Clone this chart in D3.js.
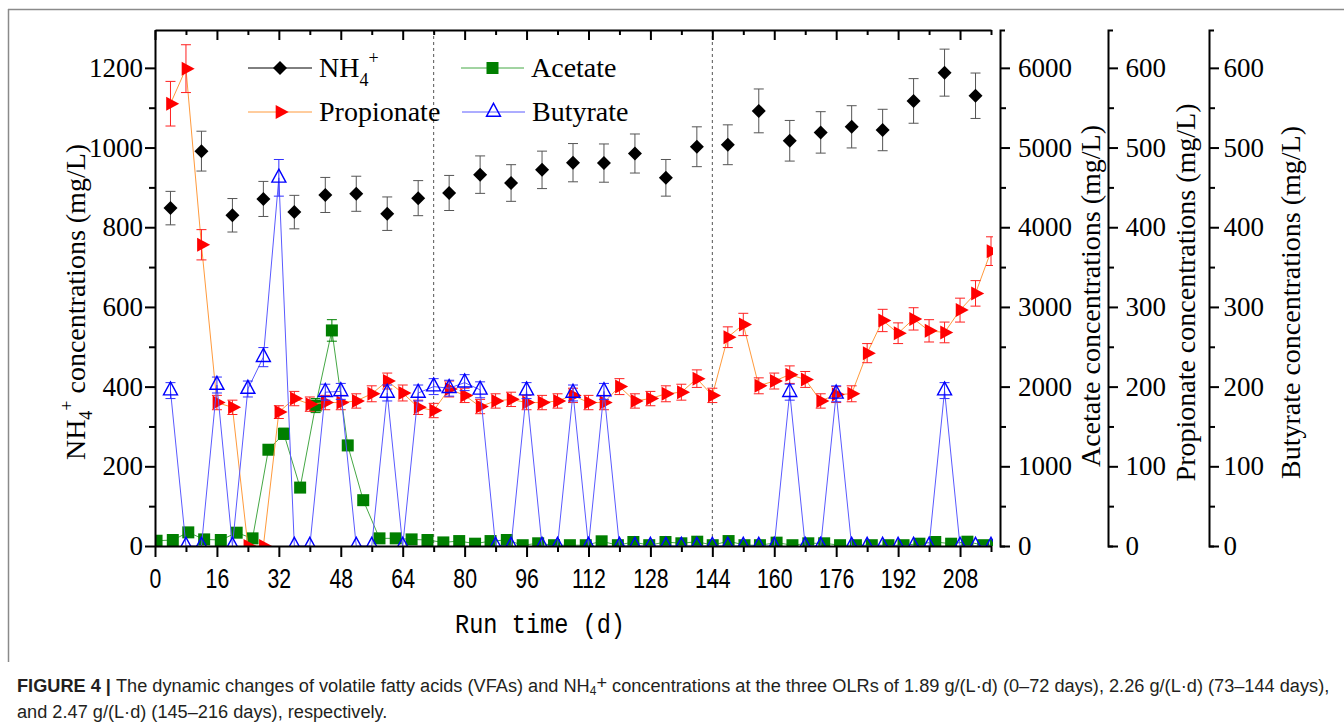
<!DOCTYPE html>
<html><head><meta charset="utf-8">
<script src="https://cdn.jsdelivr.net/npm/d3@7/dist/d3.min.js"></script>
<style>
html,body{margin:0;padding:0;background:#fff;}
svg{display:block;}
</style></head>
<body>
<svg id="chart" width="1344" height="725"></svg>
<script>
// ---------------- data ----------------
const xMajorTicks = [0,16,32,48,64,80,96,112,128,144,160,176,192,208];
const xMinorTicks = [8,24,40,56,72,88,104,120,136,152,168,184,200,216];
const nh4Ticks = [0,200,400,600,800,1000,1200];
const nh4Minor = [100,300,500,700,900,1100];
const aceTicks = [0,1000,2000,3000,4000,5000,6000];
const aceMinor = [500,1500,2500,3500,4500,5500];
const vfaTicks = [0,100,200,300,400,500,600];
const vfaMinor = [50,150,250,350,450,550];
const olrBoundaries = [72,144];

const nh4Days = [4,12,20,28,36,44,52,60,68,76,84,92,100,108,116,124,132,140,148,156,164,172,180,188,196,204,212];
const nh4Vals = [848,991,830,871,838,881,884,834,873,886,932,911,944,962,961,985,924,1002,1007,1092,1017,1038,1052,1044,1117,1188,1130];
const nh4Err  = [42,50,42,44,42,44,44,42,44,44,47,46,47,48,48,49,46,50,50,55,51,52,53,52,56,59,57];

const vfaDays = [4,8,12,16,20,24,28,32,36,40,44,48,52,56,60,64,68,72,76,80,84,88,92,96,100,104,108,112,116,120,124,128,132,136,140,144,148,152,156,160,164,168,172,176,180,184,188,192,196,200,204,208,212,216];
const propVals = [555,599,378,180,174,0,0,168,185,178,180,180,182,191,207,192,174,170,197,189,175,182,184,180,180,182,189,180,180,200,182,185,191,193,210,189,262,278,201,207,215,209,182,190,191,242,283,267,285,270,268,296,317,370];
const propErr  = [28,30,19,9,9,0,0,8,9,9,9,9,9,10,10,10,9,9,10,9,9,9,9,9,9,9,9,9,9,10,9,9,10,10,11,9,13,14,10,10,11,10,9,10,10,12,14,13,14,14,13,15,16,18];
const butVals  = [195,0,0,202,0,197,237,462,0,0,193,194,0,0,192,0,192,200,198,205,196,0,0,195,0,0,192,0,194,0,0,0,0,0,0,0,0,0,0,0,193,0,0,191,0,0,0,0,0,0,195,0,0,0];
const butErr   = [10,0,0,10,0,10,12,23,0,0,10,10,0,0,10,0,10,10,10,10,10,0,0,10,0,0,10,0,10,0,0,0,0,0,0,0,0,0,0,0,10,0,0,10,0,0,0,0,0,0,10,0,0,0];

const aceDays = [0.4,4.6,8.6,12.7,17.0,21.1,25.2,29.3,33.3,37.5,41.5,45.7,49.8,53.8,58.0,62.2,66.3,70.4,74.5,78.6,82.7,86.7,90.9,95.0,99.0,103.1,107.2,111.3,115.4,119.6,123.6,127.7,131.9,136.0,140.1,144.1,148.2,152.3,156.3,160.6,164.7,168.8,172.9,177.0,181.1,185.2,189.5,193.4,197.5,201.6,205.7,209.9,214.0,217.3];
const aceVals = [66,75,171,83,75,167,96,1208,1408,733,1762,2705,1262,575,96,96,83,75,45,62,29,62,75,10,34,10,10,10,59,10,50,10,50,34,54,10,62,10,10,42,10,34,34,10,10,10,10,10,29,50,29,54,10,10];
const aceErr  = [3,4,9,4,4,8,5,60,70,37,88,135,63,29,5,5,4,4,2,3,1,3,4,1,2,1,1,1,3,1,3,1,3,2,3,1,3,1,1,2,1,2,2,1,1,1,1,1,1,3,1,3,1,1];

// ---------------- layout ----------------
const svg = d3.select("#chart");
const L = 155, R = 991, T = 30, B = 546;
const x  = d3.scaleLinear().domain([0,216]).range([L,R]);
const yN = d3.scaleLinear().domain([0,1295]).range([B,T]);
const yA = d3.scaleLinear().domain([0,6475]).range([B,T]);
const yP = d3.scaleLinear().domain([0,647.5]).range([B,T]);
const yB = d3.scaleLinear().domain([0,647.5]).range([B,T]);
const fmt = d3.format("d");

const serif = "'Liberation Serif','Times New Roman',serif";
const narrow = "'Liberation Sans',Arial,sans-serif";

// frame
svg.append("line").attr("x1",8).attr("x2",1344).attr("y1",9.5).attr("y2",9.5).attr("stroke","#8a8a8a").attr("stroke-width",1.5);
svg.append("line").attr("x1",8.5).attr("x2",8.5).attr("y1",9).attr("y2",662).attr("stroke","#8a8a8a").attr("stroke-width",1.5);

// clip
svg.append("defs").append("clipPath").attr("id","plotclip")
  .append("rect").attr("x",L).attr("y",T).attr("width",R-L+2).attr("height",B-T);

// dashed OLR lines
svg.append("g").selectAll("line").data(olrBoundaries).join("line")
  .attr("x1",d=>x(d)).attr("x2",d=>x(d)).attr("y1",T).attr("y2",B)
  .attr("stroke","#555").attr("stroke-width",1).attr("stroke-dasharray","3,3");

const plot = svg.append("g").attr("clip-path","url(#plotclip)");

const shapes = {
  diamond: "M0,-7L7,0L0,7L-7,0Z",
  square: "M-6,-6H6V6H-6Z",
  triRight: "M-4.3,-7L8.7,0L-4.3,7Z",
  triUp: "M0,-8.7L7,4.3L-7,4.3Z"
};

function drawSeries(days, vals, errs, ys, o) {
  const pts = days.map((d,i)=>({x:x(d), y:ys(vals[i]), lo:ys(vals[i]-errs[i]), hi:ys(vals[i]+errs[i]), e:errs[i]}));
  const g = plot.append("g");
  if (o.line) {
    g.append("path").datum(pts)
      .attr("d", d3.line().x(p=>p.x).y(p=>p.y))
      .attr("fill","none").attr("stroke",o.line).attr("stroke-width",1);
  }
  const eb = g.append("g").attr("stroke",o.err).attr("stroke-width",1).attr("fill","none");
  pts.filter(p=>p.e>0).forEach(p=>{
    eb.append("path").attr("d",`M${p.x},${p.lo}V${p.hi}M${p.x-5},${p.lo}H${p.x+5}M${p.x-5},${p.hi}H${p.x+5}`);
  });
  g.append("g").selectAll("path").data(pts).join("path")
    .attr("transform",p=>`translate(${p.x},${p.y})`)
    .attr("d",shapes[o.shape])
    .attr("fill",o.fill).attr("stroke",o.stroke||"none").attr("stroke-width",o.sw||0);
}

drawSeries(aceDays, aceVals, aceErr, yA, {line:"#45a845", err:"#008000", shape:"square", fill:"#007f00"});
drawSeries(vfaDays, propVals, propErr, yP, {line:"#ff9a3c", err:"#ff2020", shape:"triRight", fill:"#ff0000"});
drawSeries(vfaDays, butVals, butErr, yB, {line:"#5a5aff", err:"#3030ff", shape:"triUp", fill:"none", stroke:"#0000ff", sw:1.4});
drawSeries(nh4Days, nh4Vals, nh4Err, yN, {line:null, err:"#555", shape:"diamond", fill:"#000"});

// ---------------- axes ----------------
function styleAxis(g, fontSize, family) {
  g.selectAll(".domain").attr("stroke","#000").attr("stroke-width",2);
  g.selectAll(".tick line").attr("stroke","#000").attr("stroke-width",2);
  g.selectAll(".tick text").attr("fill","#000").style("font-family",family||serif).style("font-size",(fontSize||27)+"px");
  g.attr("font-family",null).attr("font-size",null);
}

// bottom
let gb = svg.append("g").attr("transform",`translate(0,${B})`)
  .call(d3.axisBottom(x).tickValues(xMajorTicks).tickSize(11).tickSizeOuter(0).tickFormat(fmt));
styleAxis(gb, 28, narrow);
gb.selectAll(".tick text").attr("y",42).attr("dy",0).attr("transform","scale(0.76,1)");
let gbm = svg.append("g").attr("transform",`translate(0,${B})`)
  .call(d3.axisBottom(x).tickValues(xMinorTicks).tickSize(6).tickSizeOuter(0).tickFormat(""));
styleAxis(gbm); gbm.select(".domain").remove();

// top
let gt = svg.append("g").attr("transform",`translate(0,${T})`)
  .call(d3.axisBottom(x).tickValues(xMajorTicks).tickSize(10).tickSizeOuter(0).tickFormat(""));
styleAxis(gt);
let gtm = svg.append("g").attr("transform",`translate(0,${T})`)
  .call(d3.axisBottom(x).tickValues(xMinorTicks).tickSize(5).tickSizeOuter(0).tickFormat(""));
styleAxis(gtm); gtm.select(".domain").remove();

// left
let gl = svg.append("g").attr("transform",`translate(${L},0)`)
  .call(d3.axisLeft(yN).tickValues(nh4Ticks).tickSize(10).tickPadding(2).tickSizeOuter(0).tickFormat(fmt));
styleAxis(gl, 27);
let glm = svg.append("g").attr("transform",`translate(${L},0)`)
  .call(d3.axisLeft(yN).tickValues(nh4Minor).tickSize(6).tickSizeOuter(0).tickFormat(""));
styleAxis(glm); glm.select(".domain").remove();

// right axes
function rightAxis(xpos, scale, major, minor, pad) {
  let g = svg.append("g").attr("transform",`translate(${xpos},0)`)
    .call(d3.axisRight(scale).tickValues(major).tickSize(10).tickPadding(pad).tickSizeOuter(5).tickFormat(fmt));
  styleAxis(g, 27);
  let gm = svg.append("g").attr("transform",`translate(${xpos},0)`)
    .call(d3.axisRight(scale).tickValues(minor).tickSize(6).tickSizeOuter(0).tickFormat(""));
  styleAxis(gm); gm.select(".domain").remove();
}
rightAxis(1000, yA, aceTicks, aceMinor, 8);
rightAxis(1108, yP, vfaTicks, vfaMinor, 7.5);
rightAxis(1209, yB, vfaTicks, vfaMinor, 4.5);

// ---------------- titles ----------------
function vTitle(cx, cy, parts) {
  const t = svg.append("text").attr("transform",`translate(${cx},${cy}) rotate(-90)`)
    .attr("text-anchor","middle").attr("dy","0.35em")
    .style("font-family",serif).style("font-size","28px").attr("fill","#000");
  parts.forEach(p=>{
    const s = t.append("tspan").text(p.t);
    if (p.fs) s.style("font-size",p.fs+"px");
    if (p.dy) s.attr("dy",p.dy);
  });
  return t;
}
vTitle(75, 302, [{t:"NH"},{t:"4",fs:18,dy:7},{t:"+",fs:18,dy:-19},{t:" concentrations (mg/L)",dy:12}]);
vTitle(1090, 296, [{t:"Acetate concentrations (mg/L)"}]);
vTitle(1185, 292.5, [{t:"Propionate concentrations (mg/L)"}]);
vTitle(1290, 302.5, [{t:"Butyrate concentrations (mg/L)"}]);

svg.append("text").attr("x",540).attr("y",633).attr("text-anchor","middle")
  .attr("textLength",170).attr("lengthAdjust","spacingAndGlyphs")
  .style("font-family","'Liberation Mono',monospace").style("font-size","28px").attr("fill","#000")
  .text("Run time (d)");

// ---------------- legend ----------------
const legendItems = [
  {x0:248,x1:312,y:68, line:"#000", shape:"diamond", fill:"#000", label:[{t:"NH"},{t:"4",fs:18,dy:9},{t:"+",fs:18,dy:-22}]},
  {x0:248,x1:312,y:112, line:"#ff9a3c", shape:"triRight", fill:"#ff0000", label:[{t:"Propionate"}]},
  {x0:461,x1:524,y:68, line:"#45a845", shape:"square", fill:"#007f00", label:[{t:"Acetate"}]},
  {x0:462,x1:525,y:112, line:"#5a5aff", shape:"triUp", fill:"none", stroke:"#0000ff", sw:1.4, label:[{t:"Butyrate"}]}
];
legendItems.forEach(it=>{
  svg.append("line").attr("x1",it.x0).attr("x2",it.x1).attr("y1",it.y).attr("y2",it.y).attr("stroke",it.line).attr("stroke-width",1);
  svg.append("path").attr("transform",`translate(${(it.x0+it.x1)/2},${it.y})`).attr("d",shapes[it.shape])
    .attr("fill",it.fill).attr("stroke",it.stroke||"none").attr("stroke-width",it.sw||0);
  const t = svg.append("text").attr("x",it.x1+7).attr("y",it.y+9)
    .style("font-family",serif).style("font-size","28px").attr("fill","#000");
  it.label.forEach(p=>{
    const s=t.append("tspan").text(p.t);
    if(p.fs) s.style("font-size",p.fs+"px");
    if(p.dy) s.attr("dy",p.dy);
  });
});

// ---------------- caption ----------------
const sans = "'Liberation Sans',Arial,Helvetica,sans-serif";
const cap1 = svg.append("text").attr("x",17).attr("y",692).style("font-family",sans).style("font-size","15px").attr("fill","#231f20");
cap1.append("tspan").style("font-weight","bold").text("FIGURE 4 | ");
cap1.append("tspan").text("The dynamic changes of volatile fatty acids (VFAs) and NH");
cap1.append("tspan").attr("class","sub").attr("dy",3).text("4");
cap1.append("tspan").attr("dy",-6).text("+");
cap1.append("tspan").attr("dy",3).text(" concentrations at the three OLRs of 1.89 g/(L·d) (0–72 days), 2.26 g/(L·d) (73–144 days),");
const cap2 = svg.append("text").attr("x",17).attr("y",718).style("font-family",sans).style("font-size","15px").attr("fill","#231f20")
  .text("and 2.47 g/(L·d) (145–216 days), respectively.");
cap1.select(".sub").style("font-size","10px");
const w1 = cap1.node().getComputedTextLength();
const fs = 15 * 1313 / w1;
cap1.style("font-size",fs+"px"); cap2.style("font-size",fs+"px");
cap1.select(".sub").style("font-size",(fs*0.66)+"px");
</script>
</body></html>
